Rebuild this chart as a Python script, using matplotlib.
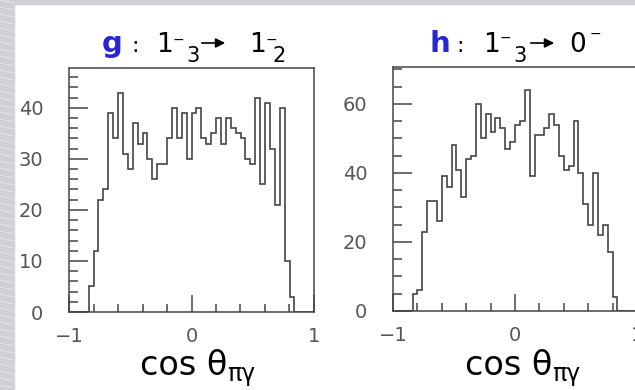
import numpy as np
import matplotlib
matplotlib.use("Agg")
import matplotlib.pyplot as plt
from matplotlib.patches import Rectangle, FancyArrowPatch

plt.rcParams['font.family'] = ['DejaVu Sans']

# Datos: 50 bins entre -1 y 1 (ancho 0.04)
bordes = np.linspace(-1, 1, 51)
cuentas_g = [0, 0, 0, 0, 5, 12, 22, 24, 39, 34,
             43, 31, 28, 37, 33, 35, 30, 26, 29, 29,
             34, 40, 34, 39, 30, 39, 40, 34, 33, 35,
             38, 33, 38, 36, 35, 34, 30, 29, 42, 25,
             41, 32, 21, 40, 10, 3, 0, 0, 0, 0]
cuentas_h = [0, 0, 0, 0, 5, 6, 23, 32, 32, 26,
             39, 36, 48, 41, 33, 44, 45, 60, 50, 57,
             52, 56, 53, 47, 49, 54, 55, 64, 39, 51,
             51, 53, 57, 54, 45, 41, 42, 55, 40, 31,
             25, 40, 22, 25, 17, 4, 0, 0, 0, 0]
letras = ['g', 'h']
# estados: (numero, signo, subindice)
inicial = [('1', '−', '3'), ('1', '−', '3')]
final = [('1', '−', '2'), ('0', '−', '')]
etiqueta_x = 'cos θ'
subindice_x = 'πγ'

W, H = 635, 390
fig = plt.figure(figsize=(W / 100, H / 100), dpi=100)
fig.patch.set_facecolor('white')


def txt(x, y, s, size, **kw):
    # x, y en pixeles desde arriba a la izquierda (y = linea base)
    fig.text(x / W, 1 - y / H, s, size=size, va='baseline', ha='left', **kw)


# marco gris de fondo (arriba e izquierda)
fig.patches.append(Rectangle((0, 0), 14 / W, 1, transform=fig.transFigure,
                             color='#d0d0d4', zorder=0))
fig.patches.append(Rectangle((0, 1 - 4 / H), 1, 4 / H, transform=fig.transFigure,
                             color='#d0d0d4', zorder=0))
for k in range(0, H, 7):
    fig.lines.append(plt.Line2D([0, 14 / W], [1 - k / H, 1 - (k + 3) / H],
                                transform=fig.transFigure, color='#e2e2e6', lw=0.8))

gris = '#454545'
ejes = [
    dict(pos=[69 / W, 78 / H, 245 / W, 244 / H], datos=cuentas_g, ymax=47.8,
         mayor=10, menor=2, xt=[102, 131, 156, 173, 186, 199, 249, 266, 272],
         ys=[40, 40], lx=140),
    dict(pos=[393 / W, 79 / H, 244 / W, 244 / H], datos=cuentas_h, ymax=70.7,
         mayor=20, menor=5, xt=[430, 456, 483, 500, 513, 528, 569, 590, 600],
         ys=[38, 34], lx=465),
]

for i, e in enumerate(ejes):
    ax = fig.add_axes(e['pos'])
    ax.set_facecolor('none')
    ax.stairs(e['datos'], bordes, color=gris, lw=1.2, baseline=0)
    ax.set_xlim(-1, 1)
    ax.set_ylim(0, e['ymax'])
    ax.set_xticks([-1, 0, 1])
    ax.set_xticks(np.arange(-0.8, 0.81, 0.2), minor=True)
    ax.set_yticks(np.arange(0, e['ymax'], e['mayor']))
    ax.set_yticks(np.arange(0, e['ymax'], e['menor']), minor=True)
    for s in ax.spines.values():
        s.set_color(gris)
        s.set_linewidth(1.1)
    ax.tick_params(axis='both', which='both', direction='in', color=gris,
                   width=1.1, labelcolor='#555555', labelsize=14,
                   top=False, right=False)
    ax.tick_params(axis='y', which='major', length=13.5, pad=18.5)
    ax.tick_params(axis='y', which='minor', length=6.5)
    ax.tick_params(axis='x', which='major', length=12, pad=10.5)
    ax.tick_params(axis='x', which='minor', length=6)

    # titulo: letra azul + transicion
    xt = e['xt']
    ys = e['ys']
    txt(xt[0], 52, letras[i], 21, color='#2626d6', weight='bold')
    txt(xt[1], 52, ':', 16)
    txt(xt[2], 52, inicial[i][0], 19)
    txt(xt[3], ys[0] + 4, inicial[i][1], 10)
    txt(xt[4], 62, inicial[i][2], 15)
    flecha = FancyArrowPatch((xt[5] / W, 1 - 43 / H), ((xt[5] + 29) / W, 1 - 43 / H),
                             transform=fig.transFigure, arrowstyle='-|>',
                             mutation_scale=14, lw=1.2, color='black')
    fig.patches.append(flecha)
    txt(xt[6], 52, final[i][0], 19)
    txt(xt[7], ys[1] + 4, final[i][1], 10)
    txt(xt[8], 62, final[i][2], 15)

    # etiqueta del eje x
    txt(e['lx'], 375, etiqueta_x, 24)
    txt(e['lx'] + 87, 381, subindice_x, 17)

plt.savefig('out.png', dpi=100)
